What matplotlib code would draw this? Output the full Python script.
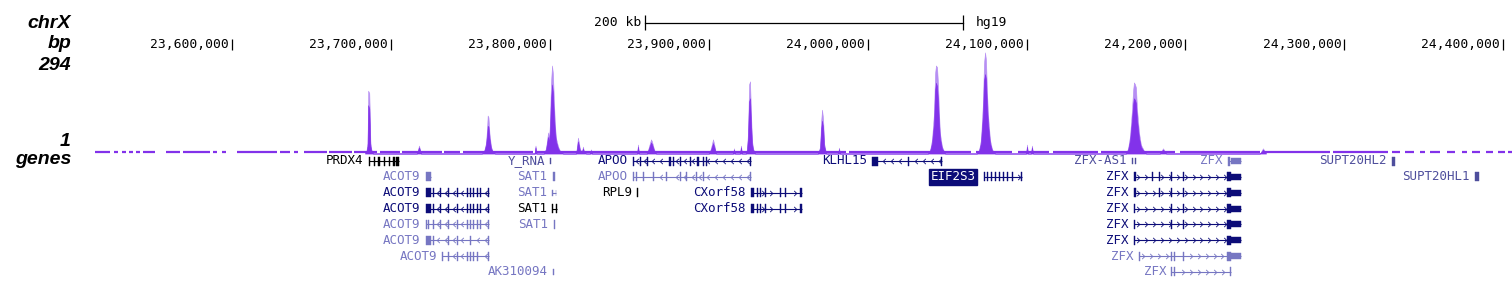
import matplotlib
matplotlib.use("Agg")
import matplotlib.pyplot as plt
from matplotlib.patches import Rectangle
from matplotlib.path import Path
import numpy as np

# ---------------- data (genomic positions in kb, chrX, hg19) ----------------
view_kb = (23513.8, 24405.5)
ruler_ticks_kb = [23600, 23700, 23800, 23900, 24000, 24100, 24200, 24300, 24400]
ruler_labels = ["23,600,000", "23,700,000", "23,800,000", "23,900,000", "24,000,000",
                "24,100,000", "24,200,000", "24,300,000", "24,400,000"]
scalebar_kb = (23860.0, 24060.0)
scalebar_label = "200 kb"
assembly = "hg19"
track_labels = ["chrX", "bp", "294", "1", "genes"]
signal_top = 294
baseline_value = 4

# regions with signal coverage (drawn as the thin baseline)
cov_start = [23513.8, 23525.7, 23530.8, 23535.2, 23539.6, 23544.0, 23558.5, 23569.2, 23588.0, 23593.7,
             23603.1, 23630.2, 23639.0, 23645.3, 23661.0, 23676.8, 23693.1, 23707.0, 23733.4, 23745.4,
             23790.7, 23988.3, 24068.2, 24094.6, 24116.7, 24146.9, 24196.6, 24248.8, 24292.9, 24330.0,
             24338.2, 24347.6, 24353.9, 24364.6, 24374.0, 24380.3, 24389.1, 24396.7, 24403.0]
cov_end = [23523.2, 23528.3, 23533.3, 23537.7, 23542.1, 23551.5, 23567.3, 23586.2, 23590.6, 23596.2,
           23628.3, 23636.5, 23641.5, 23659.8, 23675.5, 23691.2, 23705.7, 23732.2, 23743.5, 23789.4,
           23986.4, 24065.1, 24090.9, 24114.1, 24145.0, 24193.4, 24246.9, 24291.0, 24327.5, 24335.0,
           24343.8, 24350.8, 24360.2, 24369.6, 24377.2, 24385.3, 24393.5, 24401.1, 24405.5]

# peak profile points
sig_x = [23683.7, 23684.6, 23685.3, 23685.7, 23686.4, 23686.7, 23687.1, 23687.8, 23688.7,
         23716.4, 23717.7, 23718.9,
         23757.3, 23758.6, 23759.8, 23760.5, 23760.9, 23761.4, 23762.0, 23763.0, 23764.2, 23765.5,
         23790.4, 23791.0, 23791.6,
         23796.3, 23797.6, 23798.9, 23799.5, 23800.1, 23800.7, 23801.4, 23802.0, 23802.6, 23803.3,
         23803.9, 23805.2, 23806.4, 23808.3,
         23816.5, 23817.1, 23817.7, 23818.4, 23819.0, 23820.3, 23820.9, 23821.5, 23822.8,
         23825.3, 23825.9, 23826.5,
         23854.9, 23855.5, 23856.1,
         23861.2, 23862.4, 23863.7, 23864.3, 23865.6, 23866.8,
         23900.2, 23901.4, 23902.7, 23903.3, 23904.6,
         23915.3, 23915.9, 23916.5,
         23919.7, 23920.3, 23920.9,
         23923.5, 23924.1, 23924.7, 23925.4, 23926.0, 23926.6, 23927.2, 23927.9, 23929.1,
         23968.8, 23970.1, 23970.7, 23971.3, 23972.0, 23972.6, 23973.9,
         23981.4, 23982.0, 23982.6,
         24038.0, 24039.3, 24040.5, 24041.8, 24042.4, 24043.0, 24043.7, 24044.3, 24044.9, 24045.5,
         24046.8, 24048.7,
         24068.8, 24070.1, 24071.3, 24072.6, 24073.2, 24073.9, 24074.5, 24075.1, 24075.8, 24077.0,
         24078.3, 24080.2,
         24099.7, 24100.3, 24100.9,
         24102.8, 24103.4, 24104.1,
         24162.6, 24163.9, 24165.1, 24166.4, 24167.0, 24167.6, 24168.3, 24168.9, 24169.5, 24170.8,
         24172.0, 24173.9, 24175.2,
         24184.0, 24185.9, 24187.8,
         24246.9, 24248.8, 24250.7]
sig_max = [0, 8, 30, 182, 175, 120, 30, 10, 0,
           0, 23, 0,
           0, 6, 30, 70, 110, 105, 60, 20, 5, 0,
           0, 23, 0,
           0, 15, 61, 40, 90, 200, 255, 230, 150, 80, 45, 20, 8, 0,
           0, 20, 46, 30, 10, 8, 20, 5, 0,
           0, 12, 0,
           0, 26, 0,
           0, 20, 41, 35, 12, 0,
           0, 15, 41, 30, 0,
           0, 15, 0,
           0, 23, 0,
           0, 15, 60, 200, 209, 120, 40, 15, 0,
           0, 20, 90, 127, 100, 30, 0,
           0, 17, 0,
           0, 10, 40, 120, 230, 255, 250, 200, 120, 60, 20, 0,
           0, 10, 40, 150, 260, 293, 270, 180, 110, 40, 12, 0,
           0, 26, 0,
           0, 23, 0,
           0, 15, 50, 130, 180, 206, 200, 190, 130, 60, 25, 8, 0,
           0, 15, 0,
           0, 15, 0]
sig_mean = [0, 6, 22, 140, 130, 85, 22, 7, 0,
            0, 18, 0,
            0, 5, 24, 52, 80, 78, 45, 15, 4, 0,
            0, 18, 0,
            0, 12, 48, 32, 70, 150, 200, 175, 110, 60, 35, 15, 6, 0,
            0, 15, 35, 22, 8, 6, 15, 4, 0,
            0, 9, 0,
            0, 20, 0,
            0, 15, 32, 27, 9, 0,
            0, 11, 30, 22, 0,
            0, 11, 0,
            0, 18, 0,
            0, 11, 45, 150, 160, 90, 30, 11, 0,
            0, 15, 70, 95, 75, 22, 0,
            0, 13, 0,
            0, 8, 30, 90, 180, 205, 195, 150, 90, 45, 15, 0,
            0, 8, 30, 115, 210, 230, 215, 140, 85, 30, 9, 0,
            0, 20, 0,
            0, 18, 0,
            0, 11, 38, 100, 140, 160, 155, 145, 100, 45, 19, 6, 0,
            0, 11, 0,
            0, 11, 0]

# genes: exon = (start_kb, end_kb, kind) kind 'c' = thick, 'u' = thin
gene_names = ["PRDX4", "Y_RNA", "APOO", "KLHL15", "ZFX-AS1", "ZFX", "SUPT20HL2",
              "ACOT9", "SAT1", "APOO", "EIF2S3", "ZFX", "SUPT20HL1",
              "ACOT9", "SAT1", "RPL9", "CXorf58", "ZFX",
              "ACOT9", "SAT1", "CXorf58", "ZFX",
              "ACOT9", "SAT1", "ZFX",
              "ACOT9", "ZFX",
              "ACOT9", "ZFX",
              "AK310094", "ZFX"]
gene_rows = [0, 0, 0, 0, 0, 0, 0,
             1, 1, 1, 1, 1, 1,
             2, 2, 2, 2, 2,
             3, 3, 3, 3,
             4, 4, 4,
             5, 5,
             6, 6,
             7, 7]
gene_colors = ["black", "medium", "navy", "navy", "medium", "light", "medium",
               "light", "light", "light", "navy", "navy", "medium",
               "navy", "light", "black", "navy", "navy",
               "navy", "black", "navy", "navy",
               "light", "light", "navy",
               "light", "navy",
               "light", "light",
               "light", "light"]
gene_strands = ["+", "+", "-", "-", "-", "+", "+",
                "-", "+", "-", "+", "+", "+",
                "-", "+", "-", "+", "+",
                "-", "+", "+", "+",
                "-", "+", "+",
                "-", "+",
                "-", "+",
                "+", "+"]
ACOT9_full = [(23722.1, 23725.2, 'c'), (23726.3, 23726.9, 'c'), (23730.7, 23731.3, 'c'), (23735.7, 23736.3, 'c'),
              (23741.4, 23742.0, 'c'), (23747.7, 23748.3, 'c'), (23749.6, 23750.2, 'c'), (23751.5, 23752.1, 'c'),
              (23754.0, 23754.6, 'c'), (23755.9, 23756.5, 'c'), (23761.4, 23762.0, 'c')]
CXorf58_exons = [(23926.6, 23928.5, 'c'), (23930.2, 23930.8, 'c'), (23932.1, 23932.7, 'c'), (23935.2, 23935.8, 'c'),
                 (23944.7, 23945.3, 'c'), (23947.8, 23948.4, 'c'), (23957.2, 23958.7, 'c')]
gene_exons = [
    [(23686.0, 23686.7, 'c'), (23689.1, 23689.8, 'c'), (23692.2, 23692.9, 'c'), (23695.4, 23696.1, 'c'),
     (23698.5, 23699.2, 'c'), (23701.6, 23702.3, 'c'), (23703.5, 23704.2, 'c'), (23704.6, 23705.3, 'c')],
    [(23800.4, 23801.0, 'u')],
    [(23852.3, 23853.3, 'c'), (23856.6, 23857.2, 'c'), (23861.0, 23861.6, 'c'), (23874.9, 23876.3, 'c'),
     (23877.3, 23877.9, 'c'), (23881.7, 23882.3, 'c'), (23888.0, 23888.6, 'c'), (23892.5, 23893.9, 'c'),
     (23896.2, 23896.8, 'c'), (23898.1, 23898.7, 'c'), (23925.9, 23926.6, 'c')],
    [(24002.8, 24006.5, 'c'), (24025.2, 24025.8, 'c'), (24046.4, 24047.0, 'c')],
    [(24166.3, 24166.9, 'u'), (24168.0, 24168.6, 'u')],
    [(24226.7, 24228.0, 'c'), (24228.7, 24235.0, 'u')],
    [(24329.8, 24331.9, 'c')],
    # row 1
    [(23722.1, 23725.2, 'c')],
    [(23801.8, 23803.0, 'c')],
    [(23852.3, 23852.9, 'c'), (23854.5, 23855.1, 'c'), (23858.6, 23859.2, 'c'), (23864.9, 23865.5, 'c'),
     (23873.4, 23874.0, 'c'), (23881.7, 23882.3, 'c'), (23885.9, 23886.5, 'c'), (23892.2, 23892.8, 'c'),
     (23896.4, 23897.0, 'c'), (23925.9, 23926.6, 'c')],
    [(24073.0, 24073.6, 'c'), (24075.0, 24075.6, 'c'), (24077.4, 24078.0, 'c'), (24080.0, 24080.6, 'c'),
     (24082.5, 24083.1, 'c'), (24085.0, 24085.6, 'c'), (24087.5, 24088.1, 'c'), (24090.6, 24091.2, 'c'),
     (24096.7, 24097.3, 'c')],
    [(24167.6, 24168.9, 'c'), (24178.7, 24179.3, 'c'), (24183.1, 24183.7, 'c'), (24191.2, 24191.8, 'c'),
     (24198.2, 24198.8, 'c'), (24226.2, 24228.7, 'c'), (24228.7, 24235.0, 'u')],
    [(24382.2, 24384.7, 'c')],
    # row 2
    ACOT9_full,
    [(23801.6, 23802.2, 'u'), (23803.6, 23804.2, 'u')],
    [(23854.9, 23855.8, 'c')],
    CXorf58_exons,
    [(24167.6, 24168.9, 'c'), (24183.1, 24183.7, 'c'), (24191.2, 24191.8, 'c'), (24198.2, 24198.8, 'c'),
     (24226.2, 24228.7, 'c'), (24228.7, 24235.0, 'u')],
    # row 3
    ACOT9_full,
    [(23801.4, 23802.2, 'c'), (23803.6, 23804.4, 'c')],
    CXorf58_exons,
    [(24167.6, 24168.2, 'c'), (24191.2, 24191.8, 'c'), (24198.2, 24198.8, 'c'),
     (24226.2, 24228.7, 'c'), (24228.7, 24235.0, 'u')],
    # row 4
    [(23722.1, 23722.7, 'c'), (23723.4, 23724.0, 'c'), (23726.3, 23726.9, 'c'), (23730.7, 23731.3, 'c'),
     (23735.7, 23736.3, 'c'), (23741.4, 23742.0, 'c'), (23747.7, 23748.3, 'c'), (23749.6, 23750.2, 'c'),
     (23751.5, 23752.1, 'c'), (23754.0, 23754.6, 'c'), (23755.9, 23756.5, 'c'), (23761.4, 23762.0, 'c')],
    [(23802.4, 23803.0, 'c')],
    [(24167.6, 24168.2, 'c'), (24191.2, 24191.8, 'c'), (24198.2, 24198.8, 'c'),
     (24226.2, 24228.7, 'c'), (24228.7, 24235.0, 'u')],
    # row 5
    [(23722.1, 23725.2, 'c'), (23726.3, 23726.9, 'c'), (23735.7, 23736.3, 'c'), (23741.4, 23742.0, 'c'),
     (23749.6, 23750.2, 'c'), (23761.4, 23762.0, 'c')],
    [(24167.6, 24168.2, 'c'), (24226.2, 24228.7, 'c'), (24228.7, 24235.0, 'u')],
    # row 6
    [(23732.2, 23732.8, 'c'), (23735.7, 23736.3, 'c'), (23741.4, 23742.0, 'c'), (23747.7, 23748.3, 'c'),
     (23749.6, 23750.2, 'c'), (23751.5, 23752.1, 'c'), (23754.0, 23754.6, 'c'), (23761.4, 23762.0, 'c')],
    [(24170.8, 24171.4, 'c'), (24191.2, 24191.8, 'c'), (24193.1, 24193.7, 'c'), (24198.2, 24198.8, 'c'),
     (24226.2, 24228.7, 'c'), (24228.7, 24235.0, 'u')],
    # row 7
    [(23802.0, 23802.6, 'u')],
    [(24191.2, 24191.8, 'c'), (24193.1, 24193.7, 'c'), (24228.1, 24228.7, 'c')],
]
highlighted_gene = "EIF2S3"

assert len(sig_x) == len(sig_max) == len(sig_mean)
assert len(cov_start) == len(cov_end)
assert len(gene_names) == len(gene_rows) == len(gene_colors) == len(gene_strands) == len(gene_exons)

# ---------------- style ----------------
W, H = 1512, 281
color_map = {"navy": "#0c0c78", "light": "#7676c2", "medium": "#4e4e9c", "black": "#000000"}
sig_dark = "#8232ea"
sig_light = "#b68ef3"
mono = "DejaVu Sans Mono"

fig = plt.figure(figsize=(W / 100, H / 100), dpi=100, facecolor="white")


def rect(x0, y0, x1, y1):
    return [x0 / W, 1 - y1 / H, (x1 - x0) / W, (y1 - y0) / H]


ax_r = fig.add_axes(rect(95, 0, 1512, 52))
ax_s = fig.add_axes(rect(95, 52, 1512, 153.5))
ax_g = fig.add_axes(rect(95, 153.5, 1512, 281))
for a in (ax_r, ax_s, ax_g):
    a.set_xlim(*view_kb)
    a.axis("off")
ax_r.set_ylim(52, 0)
ax_s.set_ylim(0, signal_top)
row_px = 15.85
ax_g.set_ylim((281 - 161) / row_px, (153.5 - 161) / row_px)

# ---------------- left labels ----------------
label_baselines = [28.5, 48.5, 70.0, 146.5, 163.5]
for txt, yb in zip(track_labels, label_baselines):
    fig.text(71 / W, 1 - yb / H, txt, ha="right", va="baseline", fontsize=14,
             fontweight="bold", fontstyle="italic", family="Liberation Sans")

# ---------------- ruler ----------------
for t, lab in zip(ruler_ticks_kb, ruler_labels):
    ax_r.plot([t, t], [38.5, 49.5], color="black", lw=0.9, solid_capstyle="butt", clip_on=False)
    ax_r.annotate(lab, xy=(t, 48.5), xytext=(-2.2, 0), textcoords="offset points",
                  ha="right", va="baseline", fontsize=9.4, family=mono, annotation_clip=False)
ax_r.plot(scalebar_kb, [22.5, 22.5], color="black", lw=0.9)
for t in scalebar_kb:
    ax_r.plot([t, t], [15, 30], color="black", lw=0.9, solid_capstyle="butt")
ax_r.annotate(scalebar_label, xy=(scalebar_kb[0], 22.5), xytext=(-3, 0), textcoords="offset points",
              ha="right", va="center", fontsize=9.4, family=mono)
ax_r.annotate(assembly, xy=(scalebar_kb[1], 22.5), xytext=(9.5, 0), textcoords="offset points",
              ha="left", va="center", fontsize=9.4, family=mono)

# ---------------- signal ----------------
ax_s.hlines([baseline_value] * len(cov_start), cov_start, cov_end, color=sig_dark, lw=1.6)
ax_s.fill_between(sig_x, 0, sig_max, color=sig_light, lw=0.4, edgecolor=sig_light)
ax_s.fill_between(sig_x, 0, sig_mean, color=sig_dark, lw=0.4, edgecolor=sig_dark)

# ---------------- genes ----------------
chev_right = Path([(-0.4, 0.8), (0.4, 0.0), (-0.4, -0.8)], [Path.MOVETO, Path.LINETO, Path.LINETO])
chev_left = Path([(0.4, 0.8), (-0.4, 0.0), (0.4, -0.8)], [Path.MOVETO, Path.LINETO, Path.LINETO])
full_h = 9 / row_px
thin_h = 6 / row_px
for name, row, ck, strand, exons in zip(gene_names, gene_rows, gene_colors, gene_strands, gene_exons):
    c = color_map[ck]
    s = min(e[0] for e in exons)
    e_ = max(e[1] for e in exons)
    if e_ - s > 2.5:
        ax_g.plot([s, e_], [row, row], color=c, lw=0.8, solid_capstyle="butt")
        # direction chevrons along introns
        pos = np.arange(s + 2.5, e_ - 1.5, 5.0)
        keep = [p for p in pos if all(p < a - 1.0 or p > b + 1.0 for a, b, _ in exons)]
        if keep:
            ax_g.plot(keep, [row] * len(keep), ls="none",
                      marker=chev_right if strand == "+" else chev_left,
                      ms=3.8, mew=0.6, mfc="none", mec=c)
    for a, b, kind in exons:
        h = full_h if kind == "c" else thin_h
        ax_g.add_patch(Rectangle((a, row - h / 2), b - a, h, facecolor=c, edgecolor=c, lw=0.3))
    if name == highlighted_gene:
        ax_g.annotate(name, xy=(s, row), xytext=(-5.5, 0), textcoords="offset points",
                      ha="right", va="center", fontsize=9, family=mono, color="white",
                      bbox=dict(boxstyle="square,pad=0.12", fc=c, ec=c))
    else:
        ax_g.annotate(name, xy=(s, row), xytext=(-3.8, 0), textcoords="offset points",
                      ha="right", va="center", fontsize=9, family=mono, color=c)

fig.savefig("out.png", dpi=100, facecolor="white")
